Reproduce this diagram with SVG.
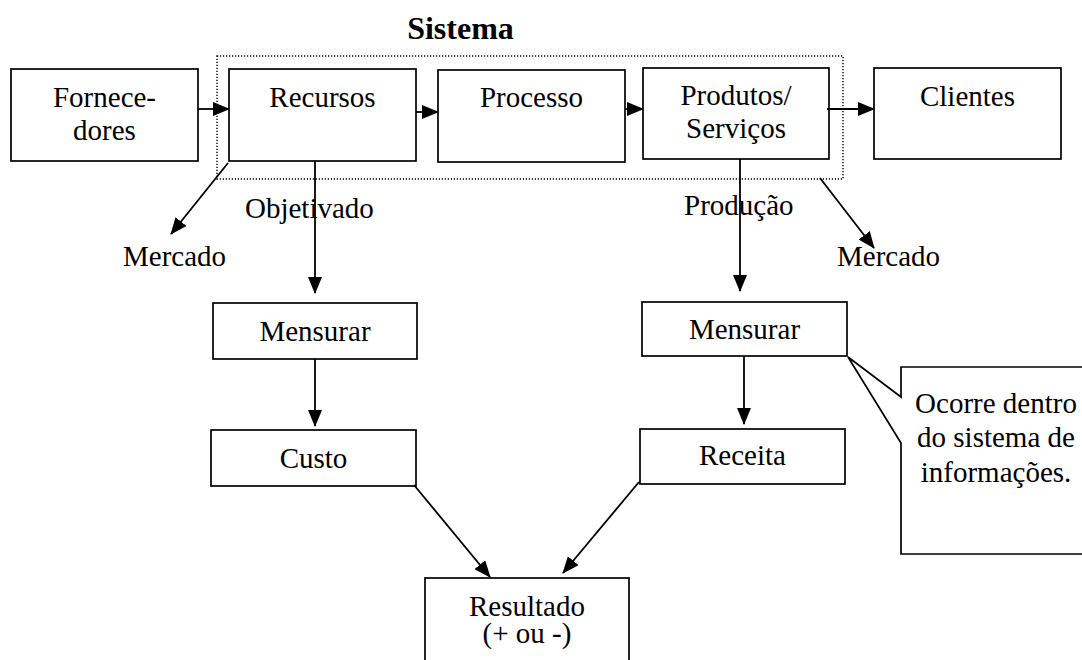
<svg xmlns="http://www.w3.org/2000/svg" width="1082" height="660" viewBox="0 0 1082 660">
  <style>
    text { font-family: "Liberation Serif", "Times New Roman", serif; font-size: 29px; fill: #000; }
    .c { text-anchor: middle; }
    .title { font-size: 32px; font-weight: bold; }
    .box { fill: #fff; stroke: #000; stroke-width: 1.7; }
    .sys { fill: none; stroke: #000; stroke-width: 1.4; stroke-dasharray: 1.2 1.8; }
    .edge { fill: none; stroke: #000; stroke-width: 1.8; marker-end: url(#arrow); }
    .callout { fill: #fff; stroke: #000; stroke-width: 1.7; stroke-linejoin: miter; }
  </style>
  <defs>
    <marker id="arrow" markerUnits="userSpaceOnUse" markerWidth="17" markerHeight="14" refX="16" refY="7" orient="auto">
      <path d="M0,0 L17,7 L0,14 z" fill="#000"/>
    </marker>
  </defs>

  <rect width="1082" height="660" fill="#fff"/>

  <!-- system boundary -->
  <g id="sistema">
    <rect class="sys" x="217" y="56" width="626" height="123"/>
    <text class="c title" x="460.5" y="39">Sistema</text>
  </g>

  <g id="fornecedores">
    <rect class="box" x="11" y="69" width="187" height="92"/>
    <text class="c" x="104.5" y="107">Fornece-</text>
    <text class="c" x="104.5" y="140">dores</text>
  </g>

  <g id="recursos">
    <rect class="box" x="229" y="69" width="187" height="92"/>
    <text class="c" x="322.5" y="107">Recursos</text>
  </g>

  <g id="processo">
    <rect class="box" x="438" y="70" width="187" height="92"/>
    <text class="c" x="531.5" y="107">Processo</text>
  </g>

  <g id="produtos">
    <rect class="box" x="643" y="68" width="186" height="91"/>
    <text class="c" x="736" y="105">Produtos/</text>
    <text class="c" x="736" y="138">Serviços</text>
  </g>

  <g id="clientes">
    <rect class="box" x="874" y="68" width="187" height="91"/>
    <text class="c" x="967.5" y="106">Clientes</text>
  </g>

  <g id="mensurar-custo">
    <rect class="box" x="213" y="303" width="204" height="56"/>
    <text class="c" x="315" y="341">Mensurar</text>
  </g>

  <g id="custo">
    <rect class="box" x="211" y="430" width="205" height="56"/>
    <text class="c" x="313.5" y="468">Custo</text>
  </g>

  <g id="mensurar-receita">
    <rect class="box" x="642" y="302" width="205" height="54"/>
    <text class="c" x="744.5" y="339">Mensurar</text>
  </g>

  <g id="receita">
    <rect class="box" x="640" y="429" width="205" height="55"/>
    <text class="c" x="742.5" y="465">Receita</text>
  </g>

  <g id="resultado">
    <rect class="box" x="425" y="578" width="204" height="100"/>
    <text class="c" x="527" y="616">Resultado</text>
    <text class="c" x="527" y="643">(+ ou -)</text>
  </g>

  <!-- speech-bubble note pointing at the revenue measurement -->
  <g id="nota">
    <path class="callout" d="M1090,367 L901,367 L901,397 L848,357 L901,443 L901,554 L1090,554"/>
    <text class="c" x="996" y="413">Ocorre dentro</text>
    <text class="c" x="996" y="447">do sistema de</text>
    <text class="c" x="996" y="482">informações.</text>
  </g>

  <g id="rotulos">
    <text x="245" y="218">Objetivado</text>
    <text x="684" y="215">Produção</text>
    <text x="123" y="266">Mercado</text>
    <text x="837" y="266">Mercado</text>
  </g>

  <g id="connectors">
    <path class="edge" d="M198,109 L229,109"/>
    <path class="edge" d="M416,112 L438,112"/>
    <path class="edge" d="M625,109 L643,109"/>
    <path class="edge" d="M827,109 L874,109"/>
    <path class="edge" d="M315,161 L315,293"/>
    <path class="edge" d="M740,159 L740,291"/>
    <path class="edge" d="M228,163 L171,234"/>
    <path class="edge" d="M820,178 L874,248"/>
    <path class="edge" d="M315,359 L315,426"/>
    <path class="edge" d="M744,356 L744,424"/>
    <path class="edge" d="M414,485 L490,577"/>
    <path class="edge" d="M639,482 L563,573"/>
  </g>
</svg>
